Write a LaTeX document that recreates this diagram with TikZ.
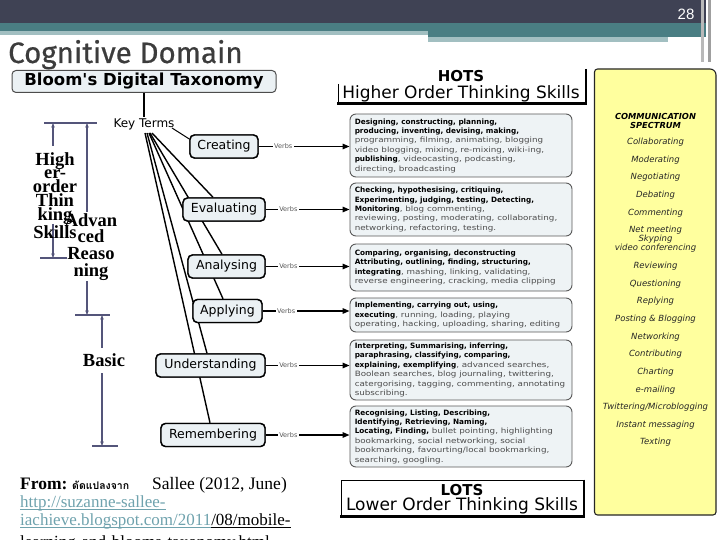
\documentclass[tikz,border=0pt]{standalone}
\usepackage{fontspec}
\setmainfont{Liberation Serif}
\newfontfamily\dvs{DejaVu Sans}
\newfontfamily\panelreg[FakeStretch=1.2]{DejaVu Sans}
\newfontfamily\panelbold{DejaVu Sans}
\newfontfamily\titlefont[FakeBold=0.6]{Fira Sans}
\newfontfamily\thaifont[Script=Thai]{Loma}
\newfontfamily\numfont{Liberation Sans}
\usetikzlibrary{arrows.meta}
\definecolor{topdark}{HTML}{3F4254}
\definecolor{tealA}{HTML}{4A7E83}
\definecolor{tealB}{HTML}{A2BFC1}
\definecolor{boxfill}{HTML}{EBF1F4}
\definecolor{panelfill}{HTML}{EEF3F5}
\definecolor{dimc}{HTML}{54557A}
\definecolor{yel}{HTML}{FFFF9E}
\definecolor{linkc}{HTML}{6FA2AD}
\definecolor{titlec}{HTML}{3C3C3C}
\newcommand{\bw}[1]{{\panelbold\bfseries\color{black}#1}}
\newsavebox\ulxbox
\newcommand{\ulx}[1]{\sbox\ulxbox{#1}\rlap{\rule[-2.6pt]{\wd\ulxbox}{0.9pt}}\usebox\ulxbox}
\tikzset{
  term/.style={draw=black, line width=1.4pt, rounded corners=4.5pt, fill=boxfill,
    font=\dvs\fontsize{12.5}{14}\selectfont, minimum height=23pt, inner sep=0pt},
  panel/.style={draw=black!65, line width=0.9pt, rounded corners=6pt, fill=panelfill,
    minimum width=222pt, inner sep=0pt},
  ptext/.style={anchor=west, align=left, font=\panelreg\fontsize{7.3}{9.4}\selectfont,
    text=black!70, inner sep=0pt},
  verbs/.style={font=\dvs\fontsize{6.5}{7}\selectfont, text=black!65, fill=white, inner sep=1.5pt},
  conn/.style={line width=1.4pt, -{Triangle[length=7pt,width=5.5pt]}},
  fanline/.style={line width=1.4pt},
  dim/.style={draw=dimc, line width=1.3pt},
  dimtip/.style={dimc, {Stealth[length=4.5pt,width=3.5pt]}-},
  dimend/.style={dimc, -{Stealth[length=4.5pt,width=3.5pt]}},
  dimtext/.style={font=\bfseries\fontsize{18.5}{12}\selectfont, align=center, inner sep=0pt},
  comm/.style={font=\dvs\itshape\fontsize{8.5}{9}\selectfont, text=black!85, align=center, inner sep=0pt},
}
\begin{document}
\begin{tikzpicture}[x=1pt,y=-1pt]
\useasboundingbox (0,0) rectangle (720,540);
% header
\fill[topdark] (0,0) rectangle (706,23);
\fill[tealA] (0,23) rectangle (706,31);
\fill[tealB] (0,31) rectangle (428,35);
\fill[tealA] (428,31) rectangle (706,37);
\fill[tealB] (428,37) rectangle (668,42);
\fill[gray!55] (701,0) rectangle (704,62);
\fill[gray!75] (708,0) rectangle (711,62);
\node[font=\numfont\fontsize{15}{16}\selectfont, text=white, inner sep=0pt] (pnum) at (686,14) {28};
\node[anchor=base west, inner sep=0pt, font=\titlefont\fontsize{29.5}{32}\selectfont, text=titlec] (title) at (8,63) {Cognitive Domain};

% Bloom header and key terms
\node[draw=black!70, line width=1pt, rounded corners=4pt, fill=boxfill, minimum width=264pt, minimum height=22pt, inner sep=0pt,
  font=\dvs\bfseries\fontsize{16.5}{18}\selectfont] (bloom) at (144,81.5) {Bloom's Digital Taxonomy};
\node[font=\dvs\fontsize{12}{13}\selectfont, inner sep=1pt] (kt) at (144,124) {Key Terms};
\coordinate (ktE) at (172,128);
\coordinate (fan) at (148,133);

% term box positions (drawn again on top of the fan lines)
\node[term, minimum width=68pt] (creating) at (224,146.5) {Creating};
\node[term, minimum width=82pt] (evaluating) at (224,209.5) {Evaluating};
\node[term, minimum width=77pt] (analysing) at (226.5,266.5) {Analysing};
\node[term, minimum width=69pt] (applying) at (227.5,311) {Applying};
\node[term, minimum width=109pt] (understanding) at (210.5,365.5) {Understanding};
\node[term, minimum width=104pt] (remembering) at (213,435) {Remembering};

\draw[line width=1.4pt] (bloom.south) -- (kt.north);
\draw[line width=1pt] (ktE) -- ([yshift=7.5pt]creating.west);
\draw[fanline] ([xshift=4pt]fan) -- ([xshift=-11pt]evaluating.north);
\draw[fanline] ([xshift=2pt]fan) -- ([xshift=-4.5pt]analysing.north);
\draw[fanline] ([xshift=1pt]fan) -- ([xshift=-4.5pt]applying.north);
\draw[fanline] ([xshift=-1pt]fan) -- ([xshift=-3.5pt]understanding.north);
\draw[fanline] ([xshift=-3pt]fan) -- ([xshift=-3pt]remembering.north);
\node[term, minimum width=68pt] (creatingTop) at (creating) {Creating};
\node[term, minimum width=82pt] (evaluatingTop) at (evaluating) {Evaluating};
\node[term, minimum width=77pt] (analysingTop) at (analysing) {Analysing};
\node[term, minimum width=69pt] (applyingTop) at (applying) {Applying};
\node[term, minimum width=109pt] (understandingTop) at (understanding) {Understanding};
\node[term, minimum width=104pt] (rememberingTop) at (remembering) {Remembering};

% HOTS
\node[font=\dvs\bfseries\fontsize{15}{16}\selectfont, inner sep=0pt] (hots) at (461,76) {HOTS};
\node[font=\dvs\fontsize{17}{18}\selectfont, inner sep=0pt] (hotsS) at (461,94) {Higher Order Thinking Skills};
\draw[line width=1pt] (338,84) -- (338,104);
\draw[line width=2.5pt] (586,69) -- (586,104);
\draw[line width=3pt] (337,104) -- (587.2,104);

% panels
\node[panel, minimum height=63pt] (p1) at (461,145.5) {};
\node[panel, minimum height=53pt] (p2) at (461,209.5) {};
\node[panel, minimum height=47pt] (p3) at (461,267.5) {};
\node[panel, minimum height=34pt] (p4) at (461,315) {};
\node[panel, minimum height=60pt] (p5) at (461,370) {};
\node[panel, minimum height=61pt] (p6) at (461,436.5) {};

\node[ptext] (t1) at ([xshift=5pt]p1.west) {\bw{Designing, constructing, planning,}\\
\bw{producing, inventing, devising, making,}\\
programming, filming, animating, blogging\\
video blogging, mixing, re-mixing, wiki-ing,\\
\bw{publishing}, videocasting, podcasting,\\
directing, broadcasting};
\node[ptext] (t2) at ([xshift=5pt]p2.west) {\bw{Checking, hypothesising, critiquing,}\\
\bw{Experimenting, judging, testing, Detecting,}\\
\bw{Monitoring}, blog commenting,\\
reviewing, posting, moderating, collaborating,\\
networking, refactoring, testing.};
\node[ptext] (t3) at ([xshift=5pt]p3.west) {\bw{Comparing, organising, deconstructing}\\
\bw{Attributing, outlining, finding, structuring,}\\
\bw{integrating}, mashing, linking, validating,\\
reverse engineering, cracking, media clipping};
\node[ptext] (t4) at ([xshift=5pt]p4.west) {\bw{Implementing, carrying out, using,}\\
\bw{executing}, running, loading, playing\\
operating, hacking, uploading, sharing, editing};
\node[ptext] (t5) at ([xshift=5pt]p5.west) {\bw{Interpreting, Summarising, inferring,}\\
\bw{paraphrasing, classifying, comparing,}\\
\bw{explaining, exemplifying}, advanced searches,\\
Boolean searches, blog journaling, twittering,\\
catergorising, tagging, commenting, annotating\\
subscribing.};
\node[ptext] (t6) at ([xshift=5pt]p6.west) {\bw{Recognising, Listing, Describing,}\\
\bw{Identifying, Retrieving, Naming,}\\
\bw{Locating, Finding,} bullet pointing, highlighting\\
bookmarking, social networking, social\\
bookmarking, favourting/local bookmarking,\\
searching, googling.};

% verb connectors
\draw[conn] (creating.east) -- node[verbs, pos=0.27] {Verbs} (creating.east -| p1.west);
\draw[conn] (evaluating.east) -- node[verbs, pos=0.27] {Verbs} (evaluating.east -| p2.west);
\draw[conn] (analysing.east) -- node[verbs, pos=0.27] {Verbs} (analysing.east -| p3.west);
\draw[conn] (applying.east) -- node[verbs, pos=0.27] {Verbs} (applying.east -| p4.west);
\draw[conn] (understanding.east) -- node[verbs, pos=0.27] {Verbs} (understanding.east -| p5.west);
\draw[conn] (remembering.east) -- node[verbs, pos=0.27] {Verbs} (remembering.east -| p6.west);

% LOTS
\draw[line width=0.8pt] (341,517) -- (341,480) -- (584,480);
\draw[line width=2.5pt] (584,479.6) -- (584,517);
\draw[line width=3pt] (340,516) -- (585.2,516);
\node[font=\dvs\bfseries\fontsize{15}{16}\selectfont, inner sep=0pt] (lots) at (462,490) {LOTS};
\node[font=\dvs\fontsize{17}{18}\selectfont, inner sep=0pt] (lotsS) at (462,506) {Lower Order Thinking Skills};

% communication spectrum
\draw[fill=yel, draw=black!85, line width=1.1pt] (594.5,515) [rounded corners=3pt] -- (594.5,69) [rounded corners=6pt] -- (716,69) [rounded corners=3pt] -- (716,515) -- cycle;
\node[font=\dvs\bfseries\itshape\fontsize{8.3}{9}\selectfont, align=center, inner sep=0pt] (cs) at (655.5,120.5) {COMMUNICATION\\SPECTRUM};
\foreach \nm/\yy/\txt in {c1/142/{Collaborating}, c2/160/{Moderating}, c3/177/{Negotiating}, c4/195/{Debating},
  c5/213/{Commenting}, c6/239/{Net meeting\\Skyping\\video conferencing}, c7/266/{Reviewing}, c8/284/{Questioning},
  c9/301/{Replying}, c10/319/{Posting \& Blogging}, c11/337/{Networking}, c12/354/{Contributing}, c13/372/{Charting},
  c14/390/{e-mailing}, c15/407/{Twittering{/}Microblogging}, c16/425/{Instant messaging}, c17/442/{Texting}}
  \node[comm] (\nm) at (655.5,\yy) {\txt};

% left dimension arrows
\draw[dim] (44,123) -- (97,123);
\draw[dim] (40,258) -- (67,258);
\draw[dim] (75,315) -- (110,315);
\draw[dim] (92,446) -- (118,446);
\coordinate (a1t) at (53,123); \coordinate (a1m) at (53,146);
\coordinate (a1n) at (53,224); \coordinate (a1b) at (53,258);
\coordinate (a2t) at (87,123); \coordinate (a2m) at (87,212);
\coordinate (a2n) at (87,281); \coordinate (a2b) at (87,315);
\coordinate (a3t) at (102,315); \coordinate (a3m) at (102,348);
\coordinate (a3n) at (102,373); \coordinate (a3b) at (102,446);
\draw[dim, dimtip] (a1t) -- (a1m);
\draw[dim, dimend] (a1n) -- (a1b);
\draw[dim, dimtip] (a2t) -- (a2m);
\draw[dim, dimend] (a2n) -- (a2b);
\draw[dim, dimtip] (a3t) -- (a3m);
\draw[dim, dimend] (a3n) -- (a3b);
\node[dimtext, anchor=north] (hot) at (55,152) {High\\er-\\order\\Thin\\king\\Skills};
\node[dimtext, anchor=north, font=\bfseries\fontsize{18.5}{16.7}\selectfont] (adv) at (91,213) {Advan\\ced\\Reaso\\ning};
\node[dimtext] (basic) at (104,360) {Basic};

% source
\node[anchor=base west, inner sep=0pt, font=\bfseries\fontsize{17.5}{20}\selectfont] (from) at (20,489) {From:};
\node[anchor=base west, inner sep=0pt, font=\thaifont\bfseries\fontsize{10.5}{11}\selectfont] (adapt) at (72,489) {ดัดแปลงจาก};
\node[anchor=base west, inner sep=0pt, font=\fontsize{17.5}{20}\selectfont] (src) at (152,489) {Sallee (2012, June)};
\node[anchor=base west, inner sep=0pt, font=\fontsize{17}{20}\selectfont, text=linkc] (url1) at (20,507) {\ulx{http://suzanne-sallee-}};
\node[anchor=base west, inner sep=0pt, font=\fontsize{17}{20}\selectfont] (url2) at (20,525) {\textcolor{linkc}{\ulx{iachieve.blogspot.com/2011}}\ulx{/08/mobile-}};
\node[anchor=base west, inner sep=0pt, font=\fontsize{17}{20}\selectfont] (url3) at (20,547) {\ulx{learning-and-blooms-taxonomy.html}};
\end{tikzpicture}
\end{document}
